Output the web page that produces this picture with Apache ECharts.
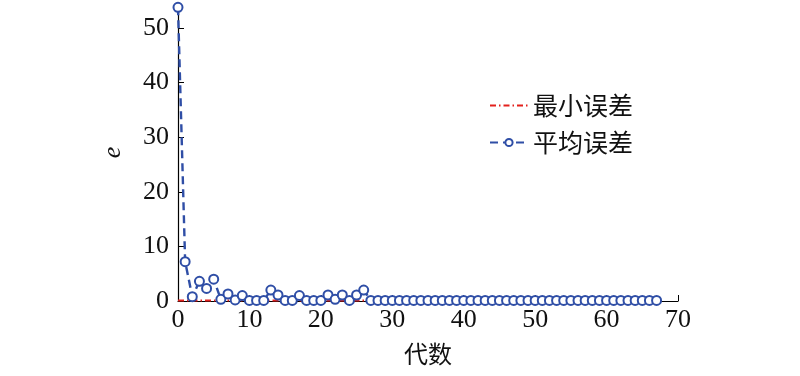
<!DOCTYPE html>
<html>
<head>
<meta charset="utf-8">
<script src="https://cdn.jsdelivr.net/npm/echarts@6/dist/echarts.min.js"></script>
<style>
  html, body { margin: 0; padding: 0; background: #fff; }
  #chart { width: 800px; height: 376px; }
</style>
</head>
<body>
<div id="chart"></div>
<script>
var generations = [
  0, 1, 2, 3, 4, 5, 6, 7, 8, 9, 10, 11, 12, 13, 14, 15, 16, 17, 18, 19,
  20, 21, 22, 23, 24, 25, 26, 27, 28, 29, 30, 31, 32, 33, 34, 35, 36, 37, 38, 39,
  40, 41, 42, 43, 44, 45, 46, 47, 48, 49, 50, 51, 52, 53, 54, 55, 56, 57, 58, 59,
  60, 61, 62, 63, 64, 65, 66, 67
];
var avgError = [
  53.8, 7.2, 0.8, 3.6, 2.3, 4.0, 0.3, 1.3, 0.2, 1.0, 0.1, 0.1, 0.1, 2.0, 1.1, 0.1, 0.1, 1.0, 0.1, 0.1,
  0.1, 1.1, 0.3, 1.1, 0.1, 1.1, 2.0, 0.1, 0.1, 0.1, 0.1, 0.1, 0.1, 0.1, 0.1, 0.1, 0.1, 0.1, 0.1, 0.1,
  0.1, 0.1, 0.1, 0.1, 0.1, 0.1, 0.1, 0.1, 0.1, 0.1, 0.1, 0.1, 0.1, 0.1, 0.1, 0.1, 0.1, 0.1, 0.1, 0.1,
  0.1, 0.1, 0.1, 0.1, 0.1, 0.1, 0.1, 0.1
];
var minError = [
  0.1, 0.1, 0.1, 0.1, 0.1, 0.1, 0.1, 0.1, 0.1, 0.1, 0.1, 0.1, 0.1, 0.1, 0.1, 0.1, 0.1, 0.1, 0.1, 0.1,
  0.1, 0.1, 0.1, 0.1, 0.1, 0.1, 0.1, 0.1, 0.1, 0.1, 0.1, 0.1, 0.1, 0.1, 0.1, 0.1, 0.1, 0.1, 0.1, 0.1,
  0.1, 0.1, 0.1, 0.1, 0.1, 0.1, 0.1, 0.1, 0.1, 0.1, 0.1, 0.1, 0.1, 0.1, 0.1, 0.1, 0.1, 0.1, 0.1, 0.1,
  0.1, 0.1, 0.1, 0.1, 0.1, 0.1, 0.1, 0.1
];
var seriesNames = ['最小误差', '平均误差'];

var blue = '#2f4ea6';
var red = '#e3211c';
var serif = '"Liberation Serif", "Noto Sans CJK SC", serif';

function pairs(vals) {
  return generations.map(function (g, i) { return [g, vals[i]]; });
}

var chart = echarts.init(document.getElementById('chart'));
var option = {
  animation: false,
  grid: { left: 178, right: 122, top: 4, bottom: 75 },
  legend: {
    orient: 'vertical',
    left: 484,
    top: 88,
    itemWidth: 38,
    itemHeight: 9,
    itemGap: 12,
    textStyle: { fontFamily: '"Noto Sans CJK SC"', fontSize: 25, color: '#111' },
    data: [
      { name: seriesNames[0], itemStyle: { color: 'rgba(0,0,0,0)', borderWidth: 0 } },
      { name: seriesNames[1] }
    ]
  },
  xAxis: {
    type: 'value',
    min: 0,
    max: 70,
    interval: 10,
    name: '代数',
    nameLocation: 'middle',
    nameGap: 41,
    nameTextStyle: { fontFamily: '"Noto Sans CJK SC"', fontSize: 24, color: '#111' },
    axisLine: { show: true, lineStyle: { color: '#000', width: 1.2 } },
    axisTick: { show: true, inside: true, length: 6, lineStyle: { color: '#000' } },
    axisLabel: { fontFamily: serif, fontSize: 26, color: '#111', margin: 6 },
    splitLine: { show: false }
  },
  yAxis: {
    type: 'value',
    min: 0,
    max: 54.4,
    interval: 10,
    name: 'e',
    nameLocation: 'middle',
    nameGap: 52,
    nameRotate: 90,
    nameTextStyle: { fontFamily: serif, fontStyle: 'italic', fontSize: 26, color: '#111' },
    axisLine: { show: true, lineStyle: { color: '#000', width: 1.2 } },
    axisTick: { show: true, inside: true, length: 6, lineStyle: { color: '#000' } },
    axisLabel: { fontFamily: serif, fontSize: 26, color: '#111', margin: 9, showMaxLabel: false },
    splitLine: { show: false }
  },
  series: [
    {
      name: seriesNames[0],
      type: 'line',
      data: pairs(minError),
      symbol: 'none',
      z: 2,
      itemStyle: { color: red },
      lineStyle: { color: red, width: 2, type: [6, 3, 1.5, 3] }
    },
    {
      name: seriesNames[1],
      type: 'line',
      data: pairs(avgError),
      symbol: 'emptyCircle',
      symbolSize: 9,
      clip: false,
      z: 3,
      itemStyle: { color: blue, borderWidth: 2 },
      lineStyle: { color: blue, width: 2.4, type: [8, 5] }
    }
  ]
};
chart.setOption(option);
</script>
</body>
</html>
